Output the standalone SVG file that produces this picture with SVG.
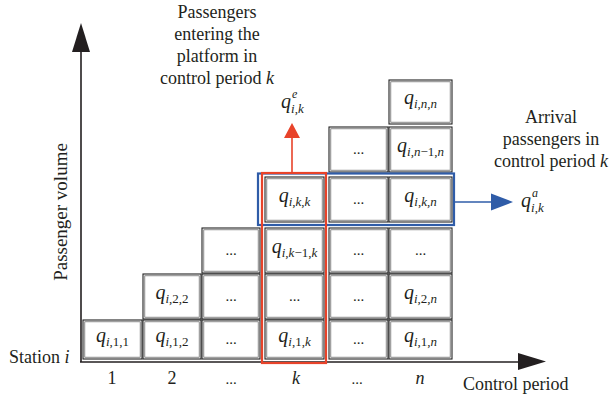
<svg xmlns="http://www.w3.org/2000/svg" width="613" height="402" viewBox="0 0 613 402">
<style>
text{font-family:"Liberation Serif","Times New Roman",serif;fill:#231f20}
.lbl{font-size:18px}
.mid{text-anchor:middle}
.it{font-style:italic}
.q{font-size:20px;font-style:italic;text-anchor:middle}
.s{font-size:13px;font-style:normal}
.d{font-size:15px;text-anchor:middle}
.o{fill:#fff;stroke:#222;stroke-width:1.1}
.in{fill:none;stroke:#555;stroke-width:0.7}
.ax{stroke:#231f20;stroke-width:1.6;fill:none}
.ah{fill:#231f20}
</style>

<g id="axes">
<line class="ax" x1="81" y1="362" x2="81" y2="50"/>
<polygon class="ah" points="81,23 72,52 90,52"/>
<line class="ax" x1="80" y1="362" x2="520" y2="362"/>
<polygon class="ah" points="546,361.5 518,353 518,370"/>
</g>

<g id="axis-labels">
<text class="lbl mid" transform="translate(67,212) rotate(-90)" style="font-size:19px">Passenger volume</text>
<text class="lbl" x="9" y="363">Station <tspan class="it">i</tspan></text>
<text class="lbl" x="463" y="390">Control period</text>
<text class="lbl mid" x="112" y="384">1</text>
<text class="lbl mid" x="172" y="384">2</text>
<text class="d" x="231" y="384">...</text>
<text class="lbl mid it" x="296" y="384">k</text>
<text class="d" x="357" y="384">...</text>
<text class="lbl mid it" x="420" y="384">n</text>
</g>

<g id="cells">
<!-- row 1 -->
<g id="c-1-1"><rect class="o" x="83" y="320" width="59" height="39"/><rect class="in" x="84.8" y="321.8" width="55.4" height="35.4"/><text class="q" x="112.5" y="342">q<tspan class="s" dy="4"><tspan class="it">i</tspan>,1,1</tspan></text></g>
<g id="c-1-2"><rect class="o" x="143" y="320" width="58" height="39"/><rect class="in" x="144.8" y="321.8" width="54.4" height="35.4"/><text class="q" x="172" y="342">q<tspan class="s" dy="4"><tspan class="it">i</tspan>,1,2</tspan></text></g>
<g id="c-1-3"><rect class="o" x="202" y="320" width="58" height="39"/><rect class="in" x="203.8" y="321.8" width="54.4" height="35.4"/><text class="d" x="231" y="344">...</text></g>
<g id="c-1-k"><rect class="o" x="265" y="320" width="59" height="39"/><rect class="in" x="266.8" y="321.8" width="55.4" height="35.4"/><text class="q" x="294.5" y="342">q<tspan class="s" dy="4"><tspan class="it">i</tspan>,1,<tspan class="it">k</tspan></tspan></text></g>
<g id="c-1-5"><rect class="o" x="329" y="320" width="59" height="39"/><rect class="in" x="330.8" y="321.8" width="55.4" height="35.4"/><text class="d" x="358.5" y="344">...</text></g>
<g id="c-1-n"><rect class="o" x="389" y="320" width="63" height="39"/><rect class="in" x="390.8" y="321.8" width="59.4" height="35.4"/><text class="q" x="420.5" y="342">q<tspan class="s" dy="4"><tspan class="it">i</tspan>,1,<tspan class="it">n</tspan></tspan></text></g>
<!-- row 2 -->
<g id="c-2-2"><rect class="o" x="143" y="274" width="58" height="45"/><rect class="in" x="144.8" y="275.8" width="54.4" height="41.4"/><text class="q" x="172" y="299">q<tspan class="s" dy="4"><tspan class="it">i</tspan>,2,2</tspan></text></g>
<g id="c-2-3"><rect class="o" x="202" y="274" width="58" height="45"/><rect class="in" x="203.8" y="275.8" width="54.4" height="41.4"/><text class="d" x="231" y="301">...</text></g>
<g id="c-2-k"><rect class="o" x="265" y="274" width="59" height="45"/><rect class="in" x="266.8" y="275.8" width="55.4" height="41.4"/><text class="d" x="294.5" y="301">...</text></g>
<g id="c-2-5"><rect class="o" x="329" y="274" width="59" height="45"/><rect class="in" x="330.8" y="275.8" width="55.4" height="41.4"/><text class="d" x="358.5" y="301">...</text></g>
<g id="c-2-n"><rect class="o" x="389" y="274" width="63" height="45"/><rect class="in" x="390.8" y="275.8" width="59.4" height="41.4"/><text class="q" x="420.5" y="299">q<tspan class="s" dy="4"><tspan class="it">i</tspan>,2,<tspan class="it">n</tspan></tspan></text></g>
<!-- row 3 -->
<g id="c-3-3"><rect class="o" x="202" y="228" width="58" height="45"/><rect class="in" x="203.8" y="229.8" width="54.4" height="41.4"/><text class="d" x="231" y="255">...</text></g>
<g id="c-3-k"><rect class="o" x="265" y="228" width="59" height="45"/><rect class="in" x="266.8" y="229.8" width="55.4" height="41.4"/><text class="q" x="294.5" y="253">q<tspan class="s" dy="4"><tspan class="it">i</tspan>,<tspan class="it">k</tspan>−1,<tspan class="it">k</tspan></tspan></text></g>
<g id="c-3-5"><rect class="o" x="329" y="228" width="59" height="45"/><rect class="in" x="330.8" y="229.8" width="55.4" height="41.4"/><text class="d" x="358.5" y="255">...</text></g>
<g id="c-3-n"><rect class="o" x="389" y="228" width="63" height="45"/><rect class="in" x="390.8" y="229.8" width="59.4" height="41.4"/><text class="d" x="420.5" y="255">...</text></g>
<!-- row 4 -->
<g id="c-4-k"><rect class="o" x="265" y="177" width="59" height="45"/><rect class="in" x="266.8" y="178.8" width="55.4" height="41.4"/><text class="q" x="294.5" y="202">q<tspan class="s" dy="4"><tspan class="it">i</tspan>,<tspan class="it">k</tspan>,<tspan class="it">k</tspan></tspan></text></g>
<g id="c-4-5"><rect class="o" x="329" y="177" width="59" height="45"/><rect class="in" x="330.8" y="178.8" width="55.4" height="41.4"/><text class="d" x="358.5" y="204">...</text></g>
<g id="c-4-n"><rect class="o" x="389" y="177" width="63" height="45"/><rect class="in" x="390.8" y="178.8" width="59.4" height="41.4"/><text class="q" x="420.5" y="202">q<tspan class="s" dy="4"><tspan class="it">i</tspan>,<tspan class="it">k</tspan>,<tspan class="it">n</tspan></tspan></text></g>
<!-- row 5 -->
<g id="c-5-5"><rect class="o" x="329" y="127" width="59" height="45"/><rect class="in" x="330.8" y="128.8" width="55.4" height="41.4"/><text class="d" x="358.5" y="154">...</text></g>
<g id="c-5-n"><rect class="o" x="389" y="127" width="63" height="45"/><rect class="in" x="390.8" y="128.8" width="59.4" height="41.4"/><text class="q" x="420.5" y="152">q<tspan class="s" dy="4"><tspan class="it">i</tspan>,<tspan class="it">n</tspan>−1,<tspan class="it">n</tspan></tspan></text></g>
<!-- row 6 -->
<g id="c-6-n"><rect class="o" x="389" y="80" width="63" height="44"/><rect class="in" x="390.8" y="81.8" width="59.4" height="40.4"/><text class="q" x="420.5" y="104">q<tspan class="s" dy="4"><tspan class="it">i</tspan>,<tspan class="it">n</tspan>,<tspan class="it">n</tspan></tspan></text></g>
</g>

<g id="connectors">
<rect x="258" y="173.5" width="196" height="51.5" fill="none" stroke="#2f5ca8" stroke-width="2.2"/>
<line x1="454" y1="202" x2="493" y2="202" stroke="#2f5ca8" stroke-width="1.6"/>
<polygon points="513,202 491,193.5 491,210.5" fill="#2f5ca8"/>
<rect x="262" y="173" width="64" height="190" fill="none" stroke="#e8432a" stroke-width="2.2"/>
<line x1="292" y1="173" x2="292" y2="136" stroke="#e8432a" stroke-width="1.6"/>
<polygon points="292,123 284,138 300,138" fill="#e8432a"/>
</g>

<g id="label-entering">
<text class="lbl mid" x="217" y="18">Passengers</text>
<text class="lbl mid" x="217" y="40">entering the</text>
<text class="lbl mid" x="217" y="62">platform in</text>
<text class="lbl mid" x="217" y="84">control period <tspan class="it">k</tspan></text>
<text style="font-size:20px;font-style:italic" x="281" y="108">q</text>
<text style="font-size:12px;font-style:italic" x="292" y="98">e</text>
<text style="font-size:13px" x="291" y="113"><tspan class="it">i</tspan>,<tspan class="it">k</tspan></text>
</g>

<g id="label-arrival">
<text class="lbl mid" x="551" y="123">Arrival</text>
<text class="lbl mid" x="551" y="145">passengers in</text>
<text class="lbl mid" x="551" y="167">control period <tspan class="it">k</tspan></text>
<text style="font-size:20px;font-style:italic" x="521" y="207">q</text>
<text style="font-size:12px;font-style:italic" x="532" y="197">a</text>
<text style="font-size:13px" x="531" y="212"><tspan class="it">i</tspan>,<tspan class="it">k</tspan></text>
</g>
</svg>
